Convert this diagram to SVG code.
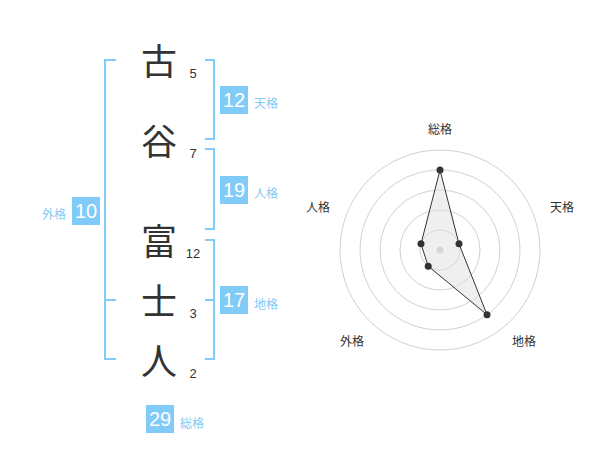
<svg xmlns="http://www.w3.org/2000/svg" width="600" height="470" viewBox="0 0 600 470">
<style>
.kanji{font-family:"Noto Sans CJK JP","Noto Sans CJK SC",sans-serif;font-size:36px;fill:#333;text-anchor:middle}
.num{font-family:"Liberation Sans",Arial,sans-serif;font-size:13px;fill:#333;text-anchor:middle}
.box{fill:#80cbf7}
.boxnum{font-family:"Liberation Sans",Arial,sans-serif;font-size:20px;fill:#fff;text-anchor:middle}
.lbl{font-family:"Noto Sans CJK JP",sans-serif;font-size:12px;fill:#80cbf7}
.br{fill:none;stroke:#80cbf7;stroke-width:2}
.ring{fill:none;stroke:#d0d0d0;stroke-width:1}
.axis{font-family:"Noto Sans CJK JP",sans-serif;font-size:12px;fill:#333;text-anchor:middle}
.pt{fill:#333}
</style>
<rect width="600" height="470" fill="#fff"/>
<g id="connectors">
<path class="br" d="M116,60 H105 V359 H116 M105,300 H116"/>
<path class="br" d="M205,60 H214 V139 H205"/>
<path class="br" d="M205,149 H214 V229 H205"/>
<path class="br" d="M205,240 H214 V359 H205 M205,300 H214"/>
</g>
<g id="char1"><text class="kanji" x="159" y="75">古</text><text class="num" x="193" y="78">5</text></g>
<g id="char2"><text class="kanji" x="159" y="155">谷</text><text class="num" x="193" y="158">7</text></g>
<g id="char3"><text class="kanji" x="159" y="255">富</text><text class="num" x="193" y="258">12</text></g>
<g id="char4"><text class="kanji" x="159" y="315">士</text><text class="num" x="193" y="318">3</text></g>
<g id="char5"><text class="kanji" x="159" y="375">人</text><text class="num" x="193" y="378">2</text></g>
<g id="tenkaku"><rect class="box" x="220" y="86" width="28" height="28"/><text class="boxnum" x="234" y="107">12</text><text class="lbl" x="254" y="108">天格</text></g>
<g id="jinkaku"><rect class="box" x="220" y="176" width="28" height="28"/><text class="boxnum" x="234" y="197">19</text><text class="lbl" x="254" y="198">人格</text></g>
<g id="chikaku"><rect class="box" x="220" y="286" width="28" height="28"/><text class="boxnum" x="234" y="307">17</text><text class="lbl" x="254" y="309">地格</text></g>
<g id="gaikaku"><rect class="box" x="72" y="197" width="28" height="28"/><text class="boxnum" x="86" y="218">10</text><text class="lbl" x="66" y="219" text-anchor="end">外格</text></g>
<g id="soukaku"><rect class="box" x="146" y="405" width="28" height="28"/><text class="boxnum" x="160" y="426">29</text><text class="lbl" x="180" y="428">総格</text></g>
<g id="radar">
<circle class="ring" cx="440" cy="250" r="20"/>
<circle class="ring" cx="440" cy="250" r="40"/>
<circle class="ring" cx="440" cy="250" r="60"/>
<circle class="ring" cx="440" cy="250" r="80"/>
<circle class="ring" cx="440" cy="250" r="100"/>
<circle cx="440" cy="250" r="3.5" fill="#ccc"/>
<polygon points="440,170 459.0,243.8 487.0,314.7 428.2,266.2 421.0,243.8" fill="#e0e0e0" fill-opacity="0.5" stroke="#333" stroke-width="1"/>
<circle class="pt" cx="440" cy="170" r="3.5"/>
<circle class="pt" cx="459.0" cy="243.8" r="3.5"/>
<circle class="pt" cx="487.0" cy="314.7" r="3.5"/>
<circle class="pt" cx="428.2" cy="266.2" r="3.5"/>
<circle class="pt" cx="421.0" cy="243.8" r="3.5"/>
<text class="axis" x="440" y="134">総格</text>
<text class="axis" x="562" y="212">天格</text>
<text class="axis" x="524" y="346">地格</text>
<text class="axis" x="352" y="346">外格</text>
<text class="axis" x="318" y="212">人格</text>
</g>
</svg>
